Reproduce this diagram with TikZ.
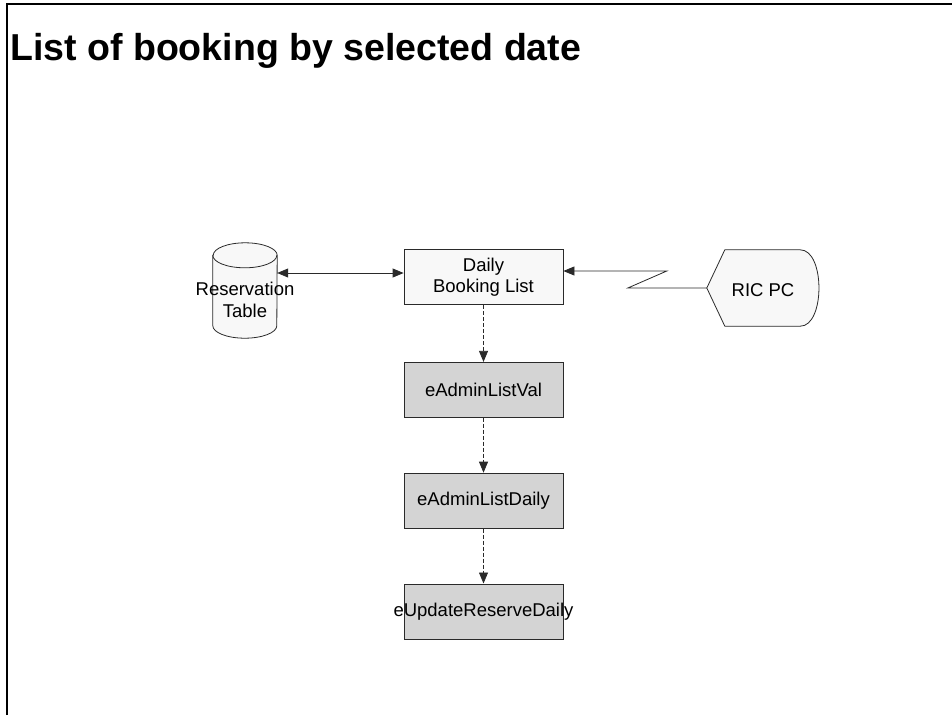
\documentclass[tikz,border=0pt]{standalone}
\usepackage{fontspec}
\setmainfont{Liberation Sans}
\usepackage{tikz}
\usetikzlibrary{positioning,arrows.meta}

\definecolor{boxgray}{HTML}{D4D4D4}
\definecolor{boxwhite}{HTML}{F8F8F8}
\definecolor{edgegray}{HTML}{2A2A2A}

\begin{document}
\begin{tikzpicture}[x=1pt, y=-1pt, >={Triangle[length=11pt,width=9pt]},
    proc/.style={draw=edgegray, line width=0.8pt, fill=boxgray, minimum width=159pt,
                 minimum height=55pt, inner sep=0pt, align=center,
                 font=\fontsize{18.5}{21}\selectfont},
    flow/.style={->, dash pattern=on 4pt off 2pt, edgegray, line width=0.8pt},
    link/.style={edgegray, line width=0.8pt}]
  \useasboundingbox (0,0) rectangle (952,715);
  % page frame, cut off at right and bottom
  \draw[line width=2pt] (7,715) -- (7,4) -- (952,4);
  \node[anchor=base west, inner sep=0pt, font=\bfseries\fontsize{37.5}{40}\selectfont]
        (title) at (10,60) {List of booking by selected date};

  % process chain
  \node[proc, fill=boxwhite] (daily) at (483.5,277) {Daily\\Booking List};
  \node[proc, below=57pt of daily] (val)   {eAdminListVal};
  \node[proc, below=55pt of val]   (list)  {eAdminListDaily};
  \node[proc, below=55pt of list]  (upd)   {\makebox[0pt]{eUpdateReserveDaily}};

  % database
  \node[minimum width=64pt, minimum height=95pt, inner sep=0pt] (res) at (245,290.5) {};
  \draw[link, fill=boxwhite] ([yshift=-12.5pt]res.north west) -- ([yshift=12.5pt]res.south west)
        arc[start angle=180, end angle=360, x radius=32pt, y radius=12.5pt]
        -- ([yshift=-12.5pt]res.north east)
        arc[start angle=0, end angle=180, x radius=32pt, y radius=12.5pt] -- cycle;
  \draw[link] ([yshift=-12.5pt]res.north west)
        arc[start angle=180, end angle=360, x radius=32pt, y radius=12.5pt];
  \node[align=center, font=\fontsize{18.5}{21.5}\selectfont] (restext) at (245,300) {Reservation\\Table};

  % display terminal
  \node[minimum width=112pt, minimum height=76pt, inner sep=0pt] (ric) at (763,288) {};
  \draw[link, fill=boxwhite] (ric.west) -- ([xshift=18pt]ric.north west)
        -- ([xshift=-19pt]ric.north east)
        .. controls ([xshift=6pt]ric.north east) and ([xshift=6pt]ric.south east)
        .. ([xshift=-19pt]ric.south east)
        -- ([xshift=18pt]ric.south west) -- cycle;
  \node[font=\fontsize{18.5}{21}\selectfont] (rictext) at ([yshift=-2pt]ric.center) {RIC PC};

  % connectors
  \draw[link, <->] ([yshift=4pt]daily.west -| res.east) -- ([yshift=4pt]daily.west);
  \draw[link, ->] (ric.west) -- ++(-79,0) -- ++(39,-17) -- ([yshift=6pt]daily.east);
  \draw[flow] (daily) -- (val);
  \draw[flow] (val) -- (list);
  \draw[flow] (list) -- (upd);
\end{tikzpicture}
\end{document}
